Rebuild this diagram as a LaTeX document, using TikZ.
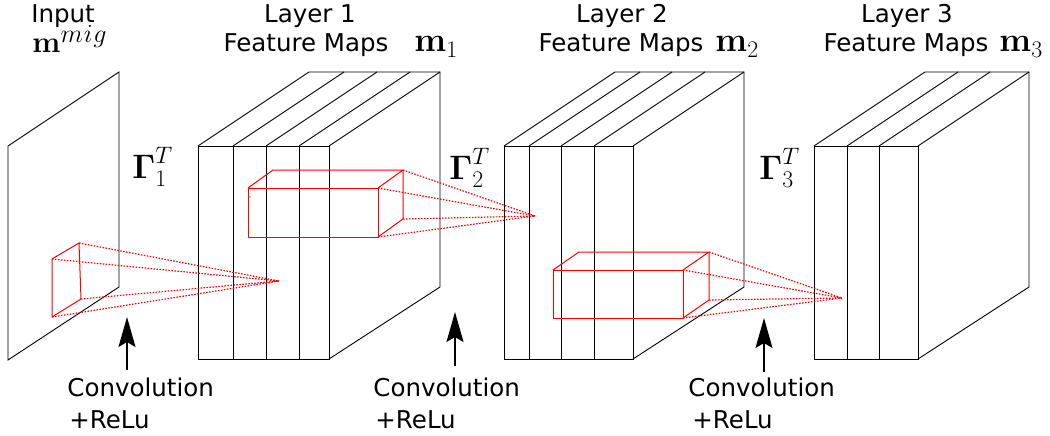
\RequirePackage{fix-cm}
\documentclass[tikz,border=0pt]{standalone}
\usepackage{amsmath}
\usepackage[no-math]{fontspec}
\setmainfont{DejaVu Sans}
\usetikzlibrary{arrows.meta}
\newcommand{\featbox}[3]{%
  \draw (#1,146) rectangle (#2,359);
  \draw (#1,146) -- ++(111,-74) -- ++(#2-#1,0) -- ++(0,215) -- (#2,359);
  \draw (#2,146) -- ++(111,-74);
  \foreach \d in {#3} {\draw (\d,146) -- (\d,359); \draw (\d,146) -- ++(111,-74);}
}
\begin{document}
\begin{tikzpicture}[x=1pt,y=-1pt,line width=0.9pt,
  lbl/.style={font=\fontsize{24.5}{29}\selectfont, anchor=base, inner sep=0pt},
  mlbl/.style={font=\fontsize{34}{38}\selectfont, anchor=base west, inner sep=0pt},
  redline/.style={red, line width=1pt, line join=round},
  ray/.style={red, line width=1.2pt, dash pattern=on 1.5pt off 1.5pt},
  uparrow/.style={-{Stealth[length=30pt,width=17pt,inset=5pt]}, line width=1.3pt}]
\useasboundingbox (0,0) rectangle (1050,436);

% input plane
\draw (8,146) -- (119,72) -- (119,287) -- (8,360) -- cycle;
% feature map blocks
\featbox{198}{329}{233,266,299}
\featbox{504}{633}{529,561,594}
\featbox{814}{918}{847,879}

% red receptive field on input
\coordinate (a0) at (279,281);
\coordinate (q1) at (52,259);
\coordinate (q2) at (79,243);
\coordinate (q3) at (81,299);
\coordinate (q4) at (52,317);
\draw[redline] (q1) -- (q2) -- (q3) -- (q4) -- cycle;
\foreach \p in {q1,q2,q3,q4} \draw[ray] (\p) -- (a0);

% red cuboid in layer 1
\coordinate (a1) at (535,216);
\coordinate (b1) at (248,188);
\coordinate (c1) at (378,188);
\coordinate (d1) at (378,237);
\coordinate (e1) at (248,237);
\coordinate (f1) at (273,170);
\coordinate (g1) at (403,170);
\coordinate (h1) at (403,219);
\draw[redline] (b1) -- (c1) -- (d1) -- (e1) -- cycle;
\draw[redline] (b1) -- (f1) -- (g1) -- (c1);
\draw[redline] (g1) -- (h1) -- (d1);
\foreach \p in {c1,g1,h1,d1} \draw[ray] (\p) -- (a1);
\fill (250,197) circle (0.7);

% red cuboid in layer 2
\coordinate (a2) at (842,298);
\coordinate (b2) at (553,270);
\coordinate (c2) at (683,270);
\coordinate (d2) at (683,318);
\coordinate (e2) at (553,318);
\coordinate (f2) at (579,252);
\coordinate (g2) at (709,252);
\coordinate (h2) at (709,300);
\draw[redline] (b2) -- (c2) -- (d2) -- (e2) -- cycle;
\draw[redline] (b2) -- (f2) -- (g2) -- (c2);
\draw[redline] (g2) -- (h2) -- (d2);
\foreach \p in {c2,g2,h2,d2} \draw[ray] (\p) -- (a2);

% titles
\node[lbl] (tin) at (63,23) {Input};
\node[lbl, anchor=base west] (tmin) at (32,53) {\fontsize{30}{34}\selectfont$\mathbf{m}$\smash{\raisebox{10pt}{\fontsize{26}{30}\selectfont$m\kern1pt i\kern1pt g$}}};
\node[lbl] (tl1) at (310,23) {Layer 1};
\node[lbl] (tf1) at (306,52) {Feature Maps};
\node[mlbl] (tm1) at (414,52) {$\mathbf{m}_1$};
\node[lbl] (tl2) at (622,23) {Layer 2};
\node[lbl] (tf2) at (621,52) {Feature Maps};
\node[mlbl] (tm2) at (715,52) {$\mathbf{m}_2$};
\node[lbl] (tl3) at (907,23) {Layer 3};
\node[lbl] (tf3) at (906,52) {Feature Maps};
\node[mlbl] (tm3) at (999,52) {$\mathbf{m}_3$};

% operators
\node[mlbl] (g1l) at (132,178) {$\boldsymbol{\Gamma}_1^T$};
\node[mlbl] (g2l) at (449,179) {$\boldsymbol{\Gamma}_2^T$};
\node[mlbl] (g3l) at (759,179) {$\boldsymbol{\Gamma}_3^T$};

% convolution arrows and labels
\coordinate (s1) at (127,370); \coordinate (t1) at (127,317);
\coordinate (s2) at (455,366); \coordinate (t2) at (455,312);
\coordinate (s3) at (764,372); \coordinate (t3) at (764,318);
\draw[uparrow] (s1) -- (t1);
\draw[uparrow] (s2) -- (t2);
\draw[uparrow] (s3) -- (t3);
\node[lbl, anchor=base west] (cv1) at (67,396) {Convolution};
\node[lbl, anchor=base west] (rl1) at (69,428) {+ReLu};
\node[lbl, anchor=base west] (cv2) at (373,396) {Convolution};
\node[lbl, anchor=base west] (rl2) at (375,428) {+ReLu};
\node[lbl, anchor=base west] (cv3) at (688,396) {Convolution};
\node[lbl, anchor=base west] (rl3) at (692,428) {+ReLu};
\end{tikzpicture}
\end{document}
